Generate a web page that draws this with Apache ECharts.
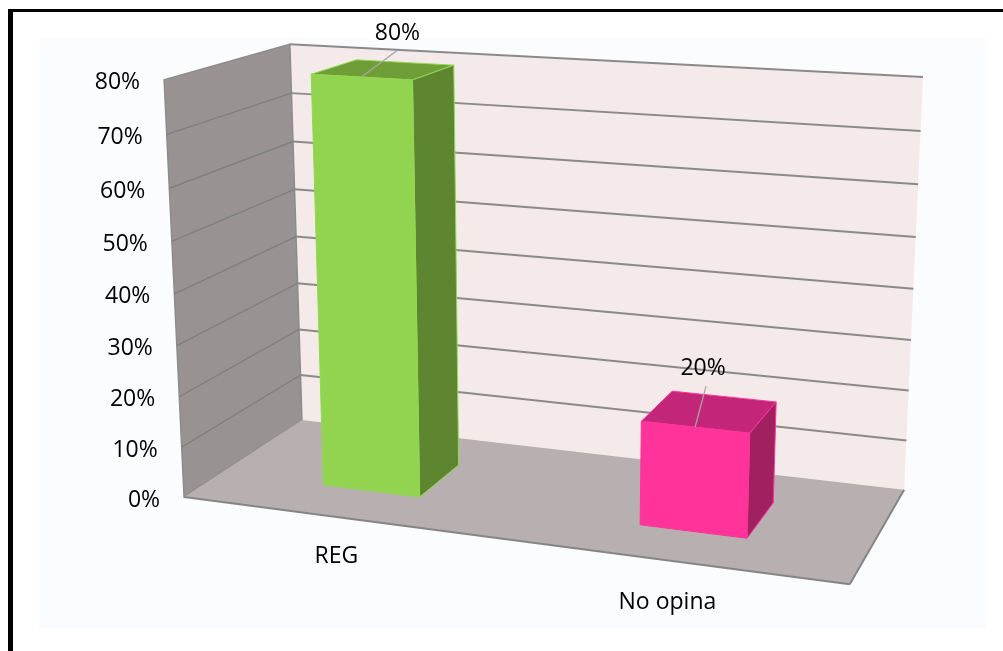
<!DOCTYPE html>
<html>
<head>
<meta charset="utf-8">
<style>html,body{margin:0;padding:0;background:#fff}#chart{width:1003px;height:651px}</style>
<script src="https://cdn.jsdelivr.net/npm/echarts@6/dist/echarts.min.js"></script>
</head>
<body>
<div id="chart"></div>
<script>
// Chart data
const categories = ['REG', 'No opina'];
const values = [80, 20];
const valueTicks = [0, 10, 20, 30, 40, 50, 60, 70, 80];

// Per-bar styling and label placement (pixels relative to the bar's front-top midpoint)
const barColors = [
  { front: '#92D350', top: '#6F9E38', side: '#5E8530', edge: '#92D850' },
  { front: '#FF3399', top: '#C32578', side: '#A02060', edge: '#FF3399' }
];
const leaderOffsets = [[35, -26], [11, -41]];
const labelOffsets = [[36, -44], [8, -59]];
const categoryLabelOffsets = [[-1, 39], [-2, 42]];

const FONT = '"Open Sans", sans-serif';
const GRID = { left: 164, top: 80, width: 686, height: 417 };
const BAR_RATIO = 0.315;  // bar width as a share of the category band
const DEPTH_NEAR = 0.30;  // depth range occupied by the bars, 0 = front, 1 = back wall
const DEPTH_FAR = 0.69;

// Box corners of the 3D frame: [across, height, depth] -> screen position
const frameCorners = [
  [0, 0, 0, 184, 497],
  [1, 0, 0, 850, 584],
  [0, 1, 0, 164, 80],
  [0, 0, 1, 302, 420],
  [1, 0, 1, 904, 490],
  [0, 1, 1, 290, 44],
  [1, 1, 1, 923, 77]
];

// Least-squares fit of a 3x4 projective camera to the frame corners
function fitCamera(pts) {
  const rows = [], rhs = [];
  pts.forEach(([a, b, c, x, y]) => {
    rows.push([a, b, c, 1, 0, 0, 0, 0, -x * a, -x * b, -x * c]); rhs.push(x);
    rows.push([0, 0, 0, 0, a, b, c, 1, -y * a, -y * b, -y * c]); rhs.push(y);
  });
  const n = 11;
  const A = [];
  for (let i = 0; i < n; i++) {
    A.push(new Array(n + 1).fill(0));
    for (let j = 0; j < n; j++) rows.forEach(r => { A[i][j] += r[i] * r[j]; });
    rows.forEach((r, k) => { A[i][n] += r[i] * rhs[k]; });
  }
  for (let i = 0; i < n; i++) {
    let p = i;
    for (let k = i + 1; k < n; k++) if (Math.abs(A[k][i]) > Math.abs(A[p][i])) p = k;
    [A[i], A[p]] = [A[p], A[i]];
    for (let k = 0; k < n; k++) {
      if (k === i) continue;
      const f = A[k][i] / A[i][i];
      for (let j = i; j <= n; j++) A[k][j] -= f * A[i][j];
    }
  }
  return A.map((r, i) => r[n] / r[i]);
}
const M = fitCamera(frameCorners);

function project(u, t, w) {
  const d = M[8] * u + M[9] * t + M[10] * w + 1;
  return [
    (M[0] * u + M[1] * t + M[2] * w + M[3]) / d,
    (M[4] * u + M[5] * t + M[6] * w + M[7]) / d
  ];
}

function poly(points, fill, stroke, lineWidth) {
  return {
    type: 'polygon',
    shape: { points },
    style: { fill, stroke: stroke || null, lineWidth: lineWidth || 0 }
  };
}
function line(a, b, stroke, lineWidth) {
  return {
    type: 'line',
    shape: { x1: a[0], y1: a[1], x2: b[0], y2: b[1] },
    style: { stroke, lineWidth, fill: null }
  };
}
function label(text, x, y, align, fontSize) {
  return {
    type: 'text',
    style: { text, x, y, align, verticalAlign: 'middle', font: `${fontSize}px ${FONT}`, fill: '#000' }
  };
}

const WALL_EDGE = '#8C8C8C';

function renderWalls() {
  return {
    type: 'group',
    children: [
      poly([project(0, 0, 1), project(1, 0, 1), project(1, 1, 1), project(0, 1, 1)], '#F5EAEA'),
      line(project(0, 1, 1), project(1, 1, 1), '#8A8A8A', 2),
      poly([project(0, 0, 0), project(0, 0, 1), project(0, 1, 1), project(0, 1, 0)], '#989392', WALL_EDGE, 1.5),
      poly([project(0, 0, 0), project(1, 0, 0), project(1, 0, 1), project(0, 0, 1)], '#B8B0B0'),
      line(project(0, 0, 0), project(1, 0, 0), '#858585', 2),
      line(project(1, 0, 0), project(1, 0, 1), '#858585', 2)
    ]
  };
}

function renderGridline(params, api) {
  const v = api.value(0);
  const cs = params.coordSys;
  const t = (cs.y + cs.height - api.coord([0, v])[1]) / cs.height;
  if (t <= 0 || t >= 1) return { type: 'group', children: [] };
  const a = project(0, t, 0), b = project(0, t, 1), c = project(1, t, 1);
  return {
    type: 'group',
    children: [line(a, b, '#7F7F7F', 1.4), line(b, c, '#8A8A8A', 2)]
  };
}

function renderTickLabel(params, api) {
  const v = api.value(0);
  const cs = params.coordSys;
  const t = (cs.y + cs.height - api.coord([0, v])[1]) / cs.height;
  const p = project(0, t, 0);
  return label(v + '%', p[0] - 24, p[1] + 3, 'right', 23);
}

function renderBar(params, api) {
  const i = api.value(0);
  const cs = params.coordSys;
  const pos = api.coord([i, api.value(1)]);
  const half = api.size([1, 0])[0] * BAR_RATIO / 2 / cs.width;
  const uc = (pos[0] - cs.x) / cs.width;
  const t = (cs.y + cs.height - pos[1]) / cs.height;
  const u0 = uc - half, u1 = uc + half;
  const w0 = DEPTH_NEAR, w1 = DEPTH_FAR;
  const col = barColors[i];
  const anchor = project(uc, t, w0);
  const lead = leaderOffsets[i], lab = labelOffsets[i];
  return {
    type: 'group',
    children: [
      poly([project(u0, t, w0), project(u1, t, w0), project(u1, t, w1), project(u0, t, w1)], col.top, col.edge, 1),
      poly([project(u1, 0, w0), project(u1, 0, w1), project(u1, t, w1), project(u1, t, w0)], col.side, col.edge, 1),
      poly([project(u0, 0, w0), project(u1, 0, w0), project(u1, t, w0), project(u0, t, w0)], col.front, col.edge, 1),
      line(anchor, [anchor[0] + lead[0], anchor[1] + lead[1]], '#A6A6A6', 1.3),
      label(api.value(1) + '%', anchor[0] + lab[0], anchor[1] + lab[1], 'center', 23)
    ]
  };
}

function renderCategoryLabel(params, api) {
  const i = api.value(0);
  const cs = params.coordSys;
  const uc = (api.coord([i, 0])[0] - cs.x) / cs.width;
  const p = project(uc, 0, 0);
  const off = categoryLabelOffsets[i];
  return label(categories[i], p[0] + off[0], p[1] + off[1], 'center', 23);
}

const chart = echarts.init(document.getElementById('chart'), null, { renderer: 'canvas' });
chart.setOption({
  animation: false,
  backgroundColor: '#FFFFFF',
  grid: GRID,
  xAxis: { type: 'category', data: categories, show: false },
  yAxis: { type: 'value', min: 0, max: 80, interval: 10, show: false },
  graphic: [
    { type: 'rect', z: -10, shape: { x: 39, y: 38, width: 948, height: 590 }, style: { fill: '#FBFCFE' } },
    { type: 'rect', z: -10, shape: { x: 8, y: 9, width: 5, height: 642 }, style: { fill: '#000' } },
    { type: 'rect', z: -10, shape: { x: 8, y: 9, width: 995, height: 3 }, style: { fill: '#000' } }
  ],
  series: [
    { type: 'custom', name: 'walls', data: [[0]], renderItem: renderWalls, silent: true, z: 1 },
    { type: 'custom', name: 'gridlines', data: valueTicks.map(v => [v]), encode: { y: 0 }, renderItem: renderGridline, silent: true, z: 2 },
    { type: 'custom', name: 'ticks', data: valueTicks.map(v => [v]), encode: { y: 0 }, renderItem: renderTickLabel, silent: true, z: 3 },
    { type: 'custom', name: 'share', data: categories.map((c, i) => [i, values[i]]), encode: { x: 0, y: 1 }, renderItem: renderBar, z: 4 },
    { type: 'custom', name: 'categories', data: categories.map((c, i) => [i]), encode: { x: 0 }, renderItem: renderCategoryLabel, silent: true, z: 5 }
  ]
});
</script>
</body>
</html>
